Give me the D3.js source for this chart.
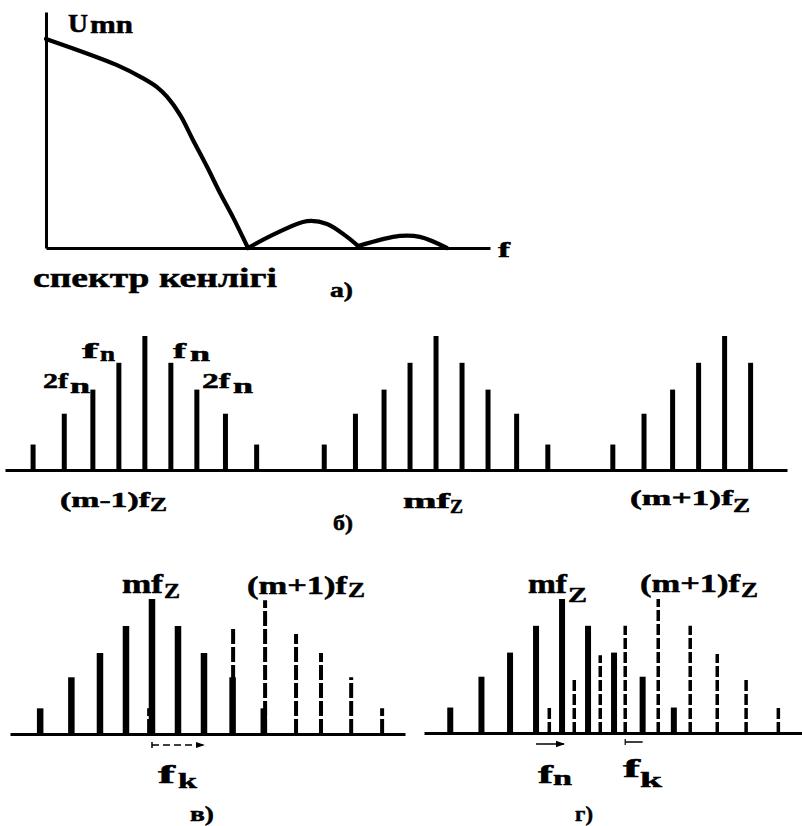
<!DOCTYPE html>
<html>
<head>
<meta charset="utf-8">
<script src="https://cdn.jsdelivr.net/npm/d3@7"></script>
<style>
  html, body { margin: 0; padding: 0; background: #fff; }
  svg { display: block; }
  svg text {
    font-family: "Liberation Serif", "Times New Roman", serif;
    font-weight: bold;
    fill: #000;
    stroke: #000;
    stroke-width: 0.5px;
  }
</style>
</head>
<body>
<script>
// ---- Panel а: spectrum envelope U(f), three lobes (f in arbitrary units, U normalised) ----
const lobeMain   = [[0, 0.886], [1.6, 0.775], [2.18, 0.72], [2.5, 0.682], [2.73, 0.64], [3.02, 0.564],
                    [3.31, 0.458], [3.63, 0.343], [3.92, 0.233], [4.21, 0.131], [4.55, 0]];
const lobeSecond = [[4.55, 0], [5.2, 0.064], [5.88, 0.114], [6.33, 0.102], [6.78, 0.047], [7.03, 0.008]];
const lobeThird  = [[7.03, 0.008], [7.97, 0.051], [8.42, 0.047], [9.03, 0]];

// ---- Side-band lines around a harmonic of f_Z (offsets in units of f_n) ----
const sideOffsets = [-4.3, -3.1, -2, -1, 0, 1, 2, 3.1, 4.3];
const sideAmps    = [0.19, 0.42, 0.6, 0.8, 1, 0.8, 0.6, 0.42, 0.19];

// ---- Panel б: harmonics (m-1)f_Z, mf_Z, (m+1)f_Z ----
const harmonicsB   = [-11.2, 0, 11.1];
const shownBandsB  = [9, 9, 6];
const harmonicMain = ["(m-1)f", "mf", "(m+1)f"];
const harmonicSub  = "Z";

// ---- Panel в: mf_Z (solid) and (m+1)f_Z (dashed) overlapping ----
const centersV     = [0, 4.35];
const dashOffsetsV = [-4.46, -3.35, -2.38, -1.23, 0, 1.19, 2.15, 3.31, 4.5];
const dashAmpsV    = [0.19, 0.42, 0.58, 0.8, 0.99, 0.74, 0.6, 0.42, 0.19];

// ---- Panel г: closer harmonics ----
const centersG     = [0, 3.7];
const dashOffsetsG = [-4.19, -3.23, -2.23, -1.27, 0, 1.23, 2.27, 3.38, 4.62];
const dashAmpsG    = [0.19, 0.41, 0.58, 0.8, 1, 0.8, 0.59, 0.4, 0.19];

const panelNames = ["а)", "б)", "в)", "г)"];

// ------------------------------------------------------------------
const W = 802, H = 826;
const svg = d3.select("body").append("svg")
  .attr("width", W).attr("height", H);

svg.append("defs").append("marker")
  .attr("id", "tip").attr("viewBox", "0 0 10 10")
  .attr("refX", 9).attr("refY", 5)
  .attr("markerWidth", 6).attr("markerHeight", 6)
  .attr("orient", "auto")
  .append("path").attr("d", "M0,1.5 L10,5 L0,8.5 Z").attr("fill", "#000");

// text squeezed or stretched to a fixed width
function label(g, x, y, str, size, w) {
  const t = g.append("text").attr("x", x).attr("y", y).style("font-size", size + "px").text(str);
  if (w) t.attr("textLength", w).attr("lengthAdjust", "spacingAndGlyphs");
  return t;
}

// bare axis line drawn by d3.axis (no ticks)
function baseAxis(g, scale, y, width) {
  const ax = g.append("g").attr("transform", `translate(0,${y})`)
    .call(d3.axisBottom(scale).tickValues([]).tickSizeOuter(0));
  ax.select(".domain").attr("stroke", "#000").attr("stroke-width", width);
  return ax;
}

// ================= Panel а =================
const gA = svg.append("g");
const xA = d3.scaleLinear().domain([0, 10]).range([46, 490]);
const yA = d3.scaleLinear().domain([0, 1]).range([248, 12]);

baseAxis(gA, xA, yA(0), 3);
gA.append("g").attr("transform", `translate(${xA(0)},0)`)
  .call(d3.axisLeft(yA).tickValues([]).tickSizeOuter(0))
  .select(".domain").attr("stroke", "#000").attr("stroke-width", 3);

const envLine = d3.line().x(d => xA(d[0])).y(d => yA(d[1])).curve(d3.curveCatmullRom.alpha(0.5));
[lobeMain, lobeSecond, lobeThird].forEach(l => {
  gA.append("path").attr("d", envLine(l)).attr("fill", "none")
    .attr("stroke", "#000").attr("stroke-width", 4.2).attr("stroke-linejoin", "round").attr("stroke-linecap", "round");
});

label(gA, 68, 32, "U", 26, 20);
label(gA, 90, 33, "mn", 26, 43);
label(gA, 498, 257, "f", 22, 12);
label(gA, 33, 287, "спектр кенлігі", 28, 244);
label(gA, 330, 297, panelNames[0], 20, 23);

// ================= shared bar drawing =================
function solidBars(g, x, y, centre, count, width) {
  const data = sideOffsets.slice(0, count).map((o, i) => ({ u: centre + o, a: sideAmps[i] }));
  g.append("g").selectAll("rect").data(data).join("rect")
    .attr("x", d => x(d.u) - width / 2)
    .attr("y", d => y(d.a))
    .attr("width", width)
    .attr("height", d => y(0) - y(d.a))
    .attr("fill", "#000");
}
function dashedBars(g, x, y, centre, offsets, amps, width, dash) {
  const data = offsets.map((o, i) => ({ u: centre + o, a: amps[i] }));
  g.append("g").selectAll("line").data(data).join("line")
    .attr("x1", d => x(d.u)).attr("x2", d => x(d.u))
    .attr("y1", y(0)).attr("y2", d => y(d.a))
    .attr("stroke", "#000").attr("stroke-width", width)
    .attr("stroke-dasharray", dash);
}

// ================= Panel б =================
const gB = svg.append("g");
const xB = d3.scaleLinear().domain([-16.58, 13.5]).range([5, 787]);
const yB = d3.scaleLinear().domain([0, 1]).range([470, 336]);
baseAxis(gB, xB, yB(0), 3);
harmonicsB.forEach((c, i) => solidBars(gB, xB, yB, c, shownBandsB[i], 5));

// side-band annotations
label(gB, 82, 358, "f", 22, 16);   label(gB, 100, 361, "n", 20, 15);
label(gB, 173, 358, "f", 22, 13);  label(gB, 190, 361, "n", 20, 20);
label(gB, 43, 388, "2f", 22, 25);  label(gB, 70, 393, "n", 20, 20);
label(gB, 202, 388, "2f", 22, 28); label(gB, 233, 393, "n", 20, 20);

// harmonic labels
label(gB, 60, 507, harmonicMain[0], 21, 90);  label(gB, 150, 511, harmonicSub, 18, 17);
label(gB, 403, 508, harmonicMain[1], 21, 47); label(gB, 450, 513, harmonicSub, 18, 13);
label(gB, 630, 505, harmonicMain[2], 21, 103); label(gB, 733, 512, harmonicSub, 18, 17);
label(gB, 333, 530, panelNames[1], 20, 20);

// ================= Panel в =================
const gV = svg.append("g");
const xV = d3.scaleLinear().domain([-5.46, 9.73]).range([10, 405]);
const yV = d3.scaleLinear().domain([0, 1]).range([734, 599]);
baseAxis(gV, xV, yV(0), 3);
dashedBars(gV, xV, yV, centersV[1], dashOffsetsV, dashAmpsV, 4, "15 3");
solidBars(gV, xV, yV, centersV[0], 9, 6.5);

label(gV, 122, 593, harmonicMain[1], 27, 41);  label(gV, 164, 598, harmonicSub, 22, 16);
label(gV, 247, 594, harmonicMain[2], 25, 100); label(gV, 348, 597, harmonicSub, 22, 17);

// f_k span
const ySpanV = yV(0) + 11;
gV.append("line").attr("x1", xV(centersV[0])).attr("x2", xV(centersV[0] + sideOffsets[6]))
  .attr("y1", ySpanV).attr("y2", ySpanV)
  .attr("stroke", "#000").attr("stroke-width", 1.5).attr("stroke-dasharray", "7 4")
  .attr("marker-end", "url(#tip)");
gV.append("line").attr("x1", xV(centersV[0])).attr("x2", xV(centersV[0]))
  .attr("y1", ySpanV - 3).attr("y2", ySpanV + 3).attr("stroke", "#000").attr("stroke-width", 1.5);
label(gV, 158, 783, "f", 26, 17); label(gV, 178, 788, "k", 22, 19);
label(gV, 190, 821, panelNames[2], 22, 24);

// ================= Panel г =================
const gG = svg.append("g");
const xG = d3.scaleLinear().domain([-5.31, 9.23]).range([424, 802]);
const yG = d3.scaleLinear().domain([0, 1]).range([733, 599]);
baseAxis(gG, xG, yG(0), 3);
dashedBars(gG, xG, yG, centersG[1], dashOffsetsG, dashAmpsG, 3.5, "11 3");
solidBars(gG, xG, yG, centersG[0], 9, 6);

label(gG, 528, 593, harmonicMain[1], 27, 39);  label(gG, 568, 602, harmonicSub, 22, 19);
label(gG, 640, 592, harmonicMain[2], 25, 100); label(gG, 741, 597, harmonicSub, 22, 17);

// f_n span
const ySpanG = yG(0) + 11;
gG.append("line").attr("x1", xG(centersG[0] + sideOffsets[3])).attr("x2", xG(centersG[0]) + 2)
  .attr("y1", ySpanG).attr("y2", ySpanG)
  .attr("stroke", "#000").attr("stroke-width", 1.5).attr("marker-end", "url(#tip)");
// f_k span
const kFrom = xG(centersG[1] + dashOffsetsG[3]), kTo = xG(centersG[0] + sideOffsets[7]);
gG.append("line").attr("x1", kFrom).attr("x2", kTo)
  .attr("y1", ySpanG - 2).attr("y2", ySpanG - 2).attr("stroke", "#000").attr("stroke-width", 1.5);
gG.append("line").attr("x1", kFrom).attr("x2", kFrom)
  .attr("y1", ySpanG - 5).attr("y2", ySpanG + 1).attr("stroke", "#000").attr("stroke-width", 1.2);

label(gG, 538, 783, "f", 26, 15); label(gG, 553, 785, "n", 22, 19);
label(gG, 623, 777, "f", 26, 17); label(gG, 640, 787, "k", 22, 22);
label(gG, 575, 821, panelNames[3], 22, 18);
</script>
</body>
</html>
